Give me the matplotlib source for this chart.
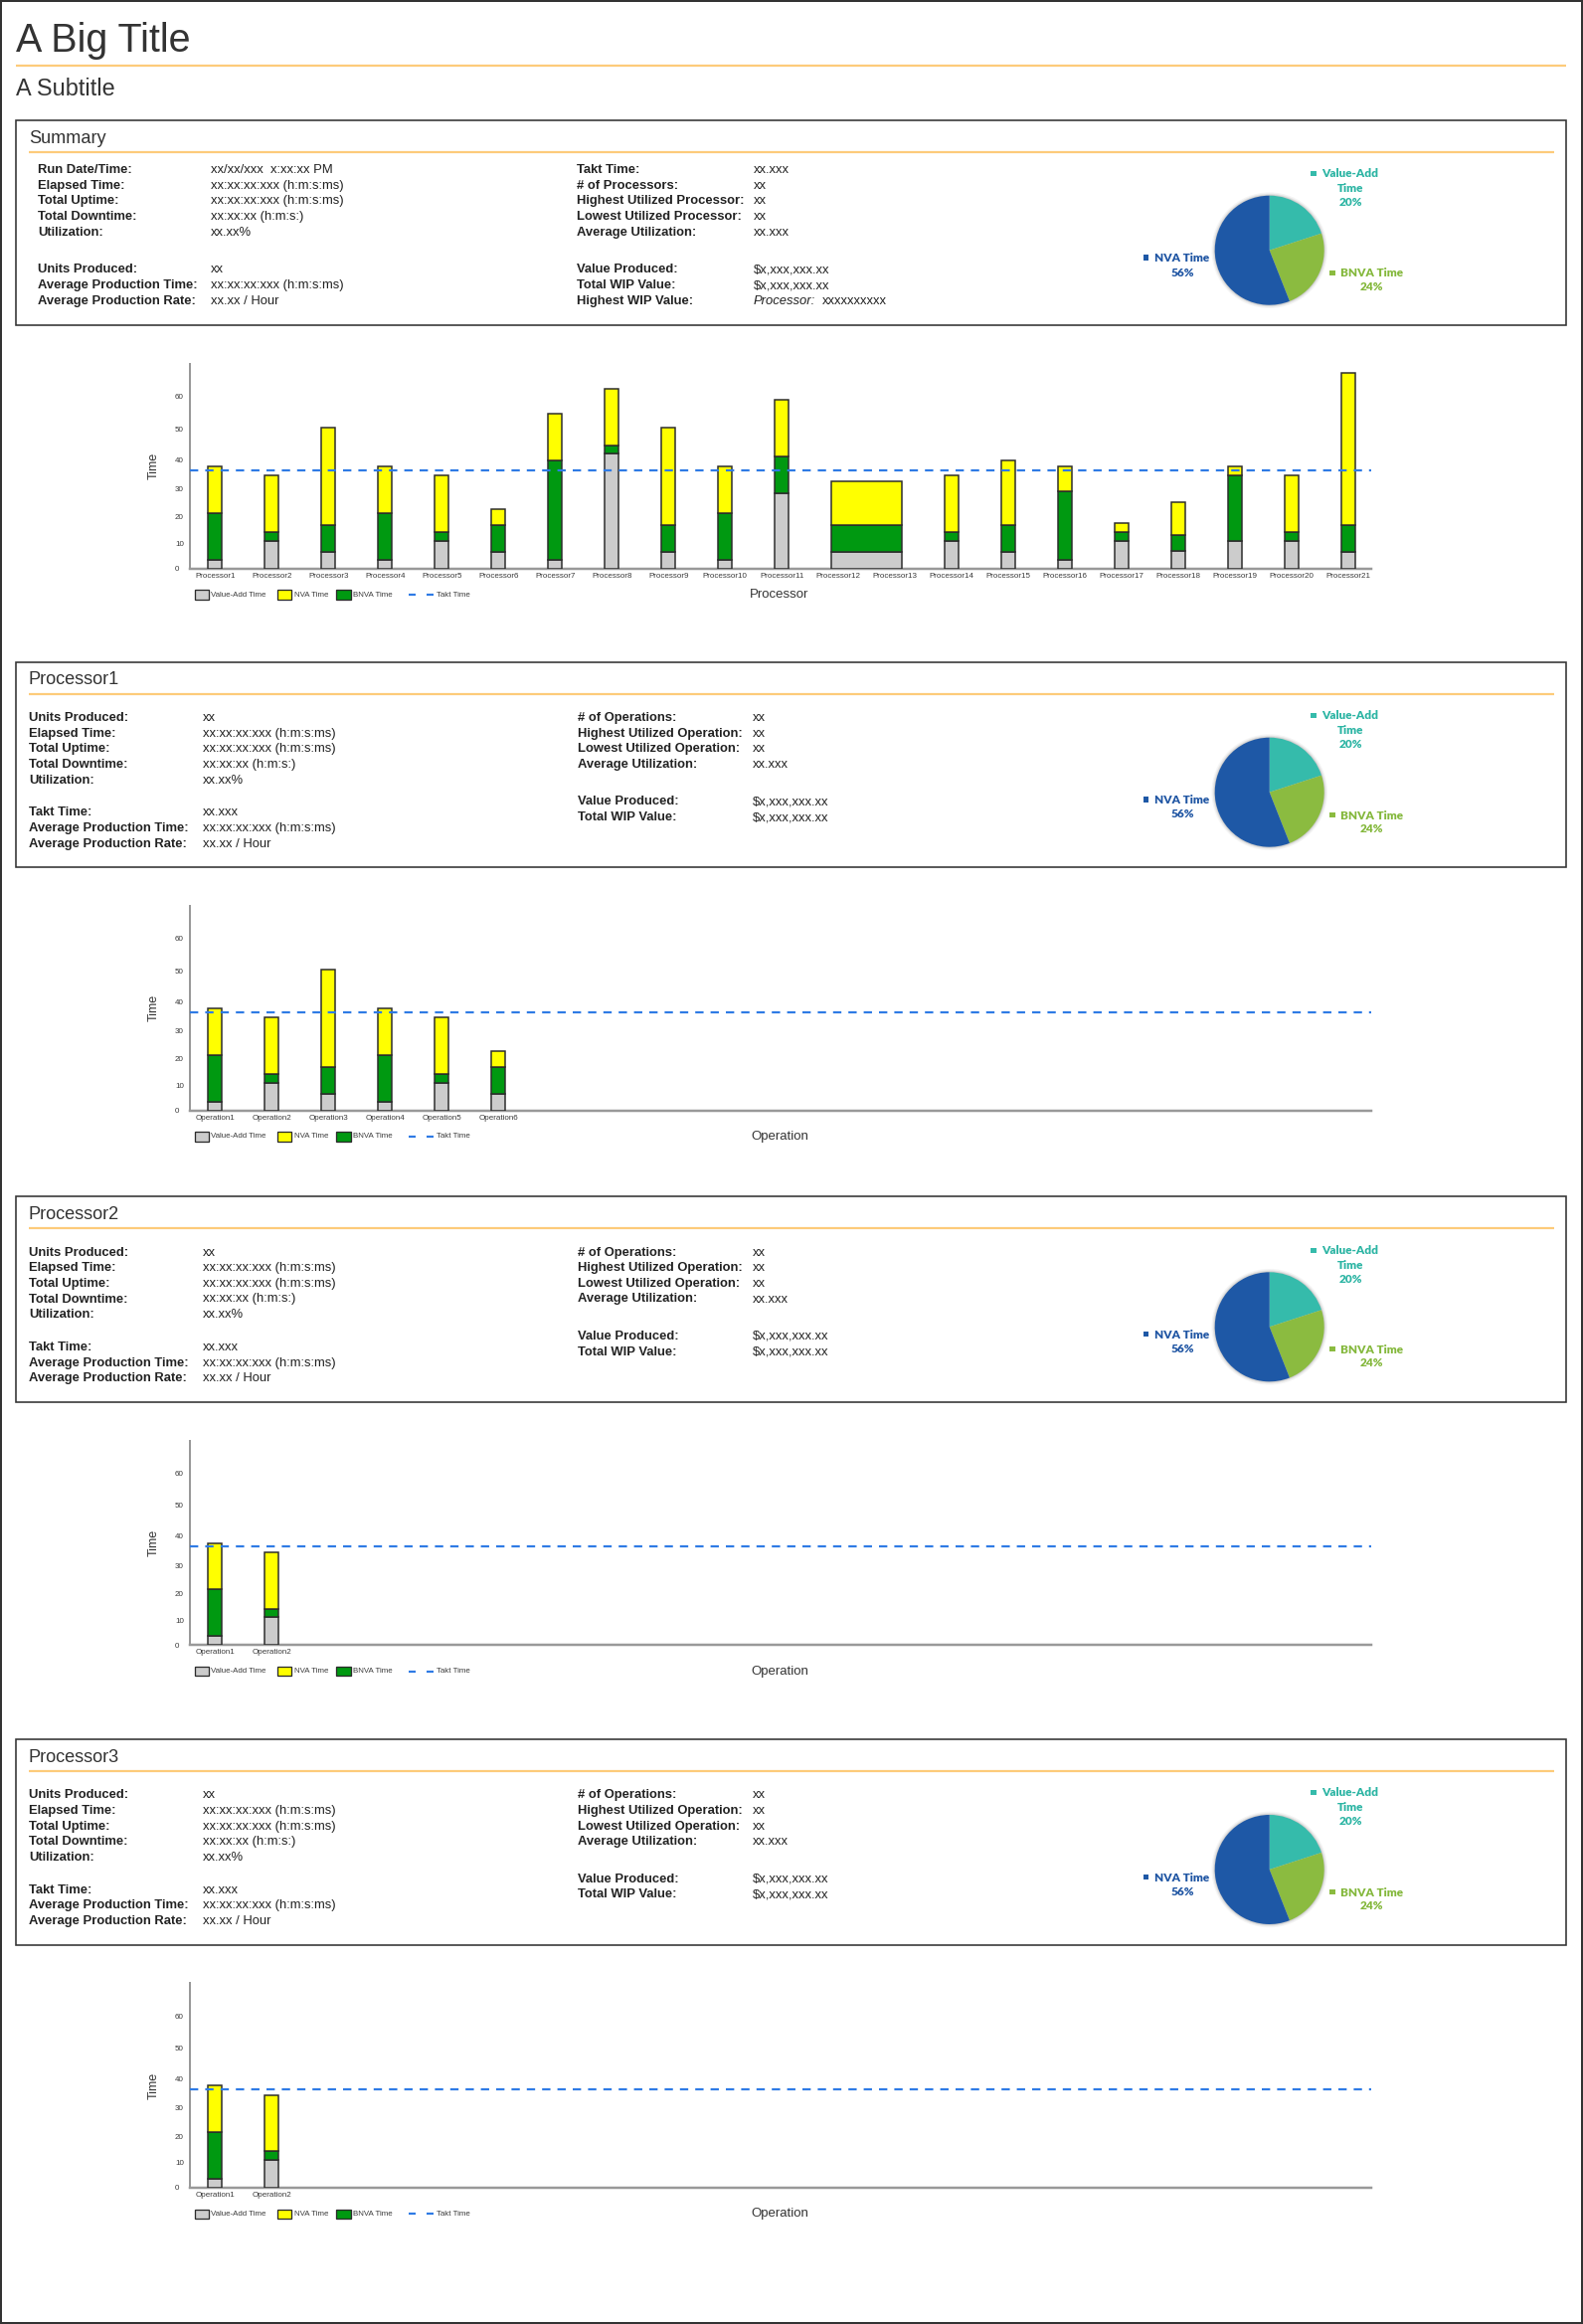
import numpy as np
import matplotlib
matplotlib.use("Agg")
import matplotlib.pyplot as plt
from matplotlib.patches import Rectangle
from matplotlib.lines import Line2D

# ---------------- data ----------------
processor_names = [f"Processor{i}" for i in range(1, 22)]
va_time   = [3.6, 11.0, 6.7, 3.6, 11.0, 6.7, 3.6, 42.0, 6.7, 3.6, 28.5,
             6.6, 6.6, 11.0, 6.6, 3.6, 11.0, 7.1, 11.0, 11.0, 6.6]
bnva_time = [17.9, 3.4, 10.2, 17.9, 3.4, 10.2, 36.2, 2.5, 10.2, 17.9, 12.6,
             10.3, 10.3, 3.4, 10.3, 25.7, 3.4, 6.3, 23.7, 3.4, 10.3]
nva_time  = [16.2, 20.2, 33.4, 16.2, 20.2, 5.8, 14.9, 17.7, 33.4, 16.2, 17.9,
             15.7, 15.7, 20.2, 22.8, 8.4, 3.3, 11.8, 3.1, 20.2, 50.2]
takt_time = 36.5

proc1_ops  = [f"Operation{i}" for i in range(1, 7)]
proc1_va   = [3.6, 11.0, 6.7, 3.6, 11.0, 6.7]
proc1_bnva = [17.9, 3.4, 10.2, 17.9, 3.4, 10.2]
proc1_nva  = [16.2, 20.2, 33.4, 16.2, 20.2, 5.8]

proc2_ops  = ["Operation1", "Operation2"]
proc2_va   = [3.6, 11.0]
proc2_bnva = [17.9, 3.4]
proc2_nva  = [16.2, 20.2]

proc3_ops  = ["Operation1", "Operation2"]
proc3_va   = [3.6, 11.0]
proc3_bnva = [17.9, 3.4]
proc3_nva  = [16.2, 20.2]

pie_names  = ["Value-Add Time", "BNVA Time", "NVA Time"]
pie_shares = [20, 24, 56]

summary_left = [("Run Date/Time:", "xx/xx/xxx  x:xx:xx PM"),
                ("Elapsed Time:", "xx:xx:xx:xxx (h:m:s:ms)"),
                ("Total Uptime:", "xx:xx:xx:xxx (h:m:s:ms)"),
                ("Total Downtime:", "xx:xx:xx (h:m:s:)"),
                ("Utilization:", "xx.xx%"),
                ("Units Produced:", "xx"),
                ("Average Production Time:", "xx:xx:xx:xxx (h:m:s:ms)"),
                ("Average Production Rate:", "xx.xx / Hour")]
summary_right = [("Takt Time:", "xx.xxx"),
                 ("# of Processors:", "xx"),
                 ("Highest Utilized Processor:", "xx"),
                 ("Lowest Utilized Processor:", "xx"),
                 ("Average Utilization:", "xx.xxx"),
                 ("Value Produced:", "$x,xxx,xxx.xx"),
                 ("Total WIP Value:", "$x,xxx,xxx.xx"),
                 ("Highest WIP Value:", None)]
proc_left = [("Units Produced:", "xx"),
             ("Elapsed Time:", "xx:xx:xx:xxx (h:m:s:ms)"),
             ("Total Uptime:", "xx:xx:xx:xxx (h:m:s:ms)"),
             ("Total Downtime:", "xx:xx:xx (h:m:s:)"),
             ("Utilization:", "xx.xx%"),
             ("Takt Time:", "xx.xxx"),
             ("Average Production Time:", "xx:xx:xx:xxx (h:m:s:ms)"),
             ("Average Production Rate:", "xx.xx / Hour")]
proc_right = [("# of Operations:", "xx"),
              ("Highest Utilized Operation:", "xx"),
              ("Lowest Utilized Operation:", "xx"),
              ("Average Utilization:", "xx.xxx"),
              ("Value Produced:", "$x,xxx,xxx.xx"),
              ("Total WIP Value:", "$x,xxx,xxx.xx")]

# ---------------- style ----------------
plt.rcParams['font.family'] = ['Liberation Sans', 'DejaVu Sans']
W, H, DPI = 1592, 2337, 100
PT = 72.0 / DPI
ORANGE = '#FDCB7A'
DARK = '#333333'
GRAY = '#CCCCCC'
YELLOW = '#FFFF00'
GREEN = '#009911'
TAKT = '#2F7BE5'
EDGE = '#2b2b2b'
PIE_COLORS = ['#35BBAB', '#8BBB40', '#1E58A6']
PIE_TEXT = ['#2DB5A4', '#84B83C', '#1F55A3']

fig = plt.figure(figsize=(W / DPI, H / DPI), dpi=DPI)
fig.patch.set_facecolor('white')


def X(x):
    return x / W


def Y(y):
    return 1 - y / H


def text(x, y, s, size_px, **kw):
    return fig.text(X(x), Y(y), s, fontsize=size_px * PT, **kw)


def hline(x0, x1, y, color, lw_px):
    fig.add_artist(Line2D([X(x0), X(x1)], [Y(y), Y(y)], color=color,
                          lw=lw_px * PT, transform=fig.transFigure,
                          solid_capstyle='butt'))


def rect(x0, y0, x1, y1, **kw):
    r = Rectangle((X(x0), Y(y1)), X(x1) - X(x0), Y(y0) - Y(y1),
                  transform=fig.transFigure, **kw)
    fig.add_artist(r)
    return r


# quadratic-looking value axis of the original chart
QA, QB = 2.45, 0.00716


def fwd(v):
    v = np.asarray(v, dtype=float)
    return QA * v + QB * v * v


def inv(s):
    s = np.asarray(s, dtype=float)
    d = np.maximum(QA * QA + 4 * QB * s, 0)
    return (-QA + np.sqrt(d)) / (2 * QB)


# ---------------- page frame and titles ----------------
rect(1, 1, W - 1, H - 1, fill=False, edgecolor=DARK, lw=2 * PT)
text(16, 51.7, "A Big Title", 39.5, color=DARK, va='baseline')
hline(16, 1575, 65.7, ORANGE, 2.2)
text(16, 96.5, "A Subtitle", 23.5, color=DARK, va='baseline')

BASE = 4.4


def info_box(top, title, left_rows, right_rows, lx, lvx, rx, rvx, lys, rys,
             row_px=13.0):
    rect(16, top, 1575, top + 206.6, fill=False, edgecolor=DARK, lw=1.6 * PT)
    text(29, top + 22.8, title, 18.2, color=DARK, va='baseline')
    hline(29, 1562.7, top + 32, ORANGE, 2.2)
    for (lab, val), yy in zip(left_rows, lys):
        text(lx, top + yy + BASE, lab, row_px, color='#222222',
             weight='bold', va='baseline')
        text(lvx, top + yy + BASE, val, row_px, color='#222222', va='baseline')
    for (lab, val), yy in zip(right_rows, rys):
        text(rx, top + yy + BASE, lab, row_px, color='#222222',
             weight='bold', va='baseline')
        if val is None:
            text(rvx, top + yy + BASE, "Processor:", row_px, color='#222222',
                 style='italic', va='baseline')
            text(827, top + yy + BASE, "xxxxxxxxxx", row_px, color='#222222',
                 va='baseline')
        else:
            text(rvx, top + yy + BASE, val, row_px, color='#222222',
                 va='baseline')
    # pie chart
    cx, cy, r = 1276.7, top + 131, 55.0
    m = 1.12
    axp = fig.add_axes([X(cx - r * m), Y(cy + r * m), 2 * r * m / W, 2 * r * m / H])
    axp.set_axis_off()
    for rr, al in [(1.06, 0.10), (1.035, 0.18), (1.015, 0.3)]:
        axp.add_patch(plt.Circle((0, 0), rr, color='#999999', alpha=al, lw=0))
    axp.pie(pie_shares, colors=PIE_COLORS, startangle=90, counterclock=False,
            radius=1.0, wedgeprops=dict(linewidth=0))
    axp.set_xlim(-m, m)
    axp.set_ylim(-m, m)
    # pie labels
    lab_px = 11.8
    fam = ['Lato', 'DejaVu Sans']
    specs = [
        (1358.0, [53.3, 68.0, 82.0], ["Value-Add", "Time", f"{pie_shares[0]}%"],
         (1318.3, 53.8), 0),
        (1379.5, [153.6, 167.0], ["BNVA Time", f"{pie_shares[1]}%"],
         (1337.3, 153.6), 1),
        (1189.0, [138.3, 152.6], ["NVA Time", f"{pie_shares[2]}%"],
         (1150.0, 138.3), 2),
    ]
    for tx, ys, lines, (mx, my), k in specs:
        for yy, ln in zip(ys, lines):
            text(tx, top + yy + 4.2, ln, lab_px, color=PIE_TEXT[k],
                 weight='heavy', family=fam, ha='center', va='baseline')
        rect(mx, top + my - 2.6, mx + 5.2, top + my + 2.6,
             facecolor=PIE_COLORS[k], edgecolor='none')


def chart(bottom, names, va, bnva, nva, xlabel, merged=()):
    left, right, height = 190.7, 1379.0, 205.7
    ax = fig.add_axes([X(left), Y(bottom), (right - left) / W, height / H])
    ax.set_yscale('function', functions=(fwd, inv))
    n = len(names)
    va = np.asarray(va, float)
    bnva = np.asarray(bnva, float)
    nva = np.asarray(nva, float)
    xs = np.arange(n, dtype=float)
    widths = np.full(n, 0.25)
    keep = np.ones(n, bool)
    for i, j in merged:
        xs[i] = (i + j) / 2.0
        widths[i] = (j - i) + 0.25
        keep[j] = False
    kw = dict(edgecolor=EDGE, linewidth=1.5 * PT, zorder=3)
    ax.bar(xs[keep], va[keep], widths[keep], color=GRAY, **kw)
    ax.bar(xs[keep], bnva[keep], widths[keep], bottom=va[keep], color=GREEN, **kw)
    ax.bar(xs[keep], nva[keep], widths[keep], bottom=(va + bnva)[keep],
           color=YELLOW, **kw)
    ax.axhline(takt_time, color=TAKT, lw=2.2 * PT, linestyle=(0, (3.8, 3.2)),
               zorder=5)
    ax.set_xlim(-0.447, 20.40)
    ax.set_ylim(0, 69.7)
    ax.set_xticks(np.arange(n))
    ax.set_xticklabels(names)
    ax.set_yticks([0, 10, 20, 30, 40, 50, 60])
    ax.set_yticklabels(["0", "10", "20", "30", "40", "50", "60"])
    ax.tick_params(axis='x', length=0, pad=2.8, labelsize=8.0 * PT,
                   labelcolor='#3a3a3a')
    ax.tick_params(axis='y', length=0, pad=14.7 * PT, labelsize=8.0 * PT,
                   labelcolor='#3a3a3a')
    for lbl in ax.get_yticklabels():
        lbl.set_horizontalalignment('left')
    ax.minorticks_off()
    for s in ['top', 'right']:
        ax.spines[s].set_visible(False)
    ax.spines['left'].set_color('#999999')
    ax.spines['left'].set_linewidth(2.0 * PT)
    ax.spines['bottom'].set_color('#999999')
    ax.spines['bottom'].set_linewidth(2.5 * PT)
    ax.set_facecolor('none')
    # legend row
    yc = bottom + 26.3
    leg_px = 7.9
    for (x0, x1), col, lab, tx in [((196.3, 210.3), GRAY, "Value-Add Time", 212.3),
                                   ((279.3, 293.3), YELLOW, "NVA Time", 295.7),
                                   ((338.3, 352.5), GREEN, "BNVA Time", 355.0)]:
        rect(x0, yc - 4.7, x1, yc + 4.7, facecolor=col, edgecolor=EDGE,
             lw=1.3 * PT)
        text(tx, yc, lab, leg_px, color='#3a3a3a', va='center')
    hline(411.0, 418.0, yc, TAKT, 2.2)
    hline(428.5, 435.7, yc, TAKT, 2.2)
    text(438.7, yc, "Takt Time", leg_px, color='#3a3a3a', va='center')
    text(784.0, yc, xlabel, 13.2, color=DARK, ha='center', va='center')
    text(155.0, bottom - height / 2, "Time", 12.5, color=DARK, rotation=90,
         ha='center', va='center')
    return ax


sum_lys = [48.6, 64.6, 80.3, 96.0, 112.3, 149.3, 165.3, 181.3]
proc_lys = [55.0, 70.6, 86.2, 101.8, 117.4, 150.3, 166.0, 181.6]
proc_rys = [55.0, 70.6, 86.2, 101.8, 139.3, 155.0]

tops = [120.7, 665.7, 1203.3, 1749.0]

info_box(tops[0], "Summary", summary_left, summary_right,
         38.2, 212.0, 580.5, 757.5, sum_lys, sum_lys)
chart(tops[0] + 451.0, processor_names, va_time, bnva_time, nva_time,
      "Processor", merged=[(11, 12)])

info_box(tops[1], "Processor1", proc_left, proc_right,
         29.3, 204.3, 581.3, 757.0, proc_lys, proc_rys)
chart(tops[1] + 451.0, proc1_ops, proc1_va, proc1_bnva, proc1_nva, "Operation")

info_box(tops[2], "Processor2", proc_left, proc_right,
         29.3, 204.3, 581.3, 757.0, proc_lys, proc_rys)
chart(tops[2] + 451.0, proc2_ops, proc2_va, proc2_bnva, proc2_nva, "Operation")

info_box(tops[3], "Processor3", proc_left, proc_right,
         29.3, 204.3, 581.3, 757.0, proc_lys, proc_rys)
chart(tops[3] + 451.0, proc3_ops, proc3_va, proc3_bnva, proc3_nva, "Operation")

fig.savefig("out.png", dpi=DPI, facecolor='white')
